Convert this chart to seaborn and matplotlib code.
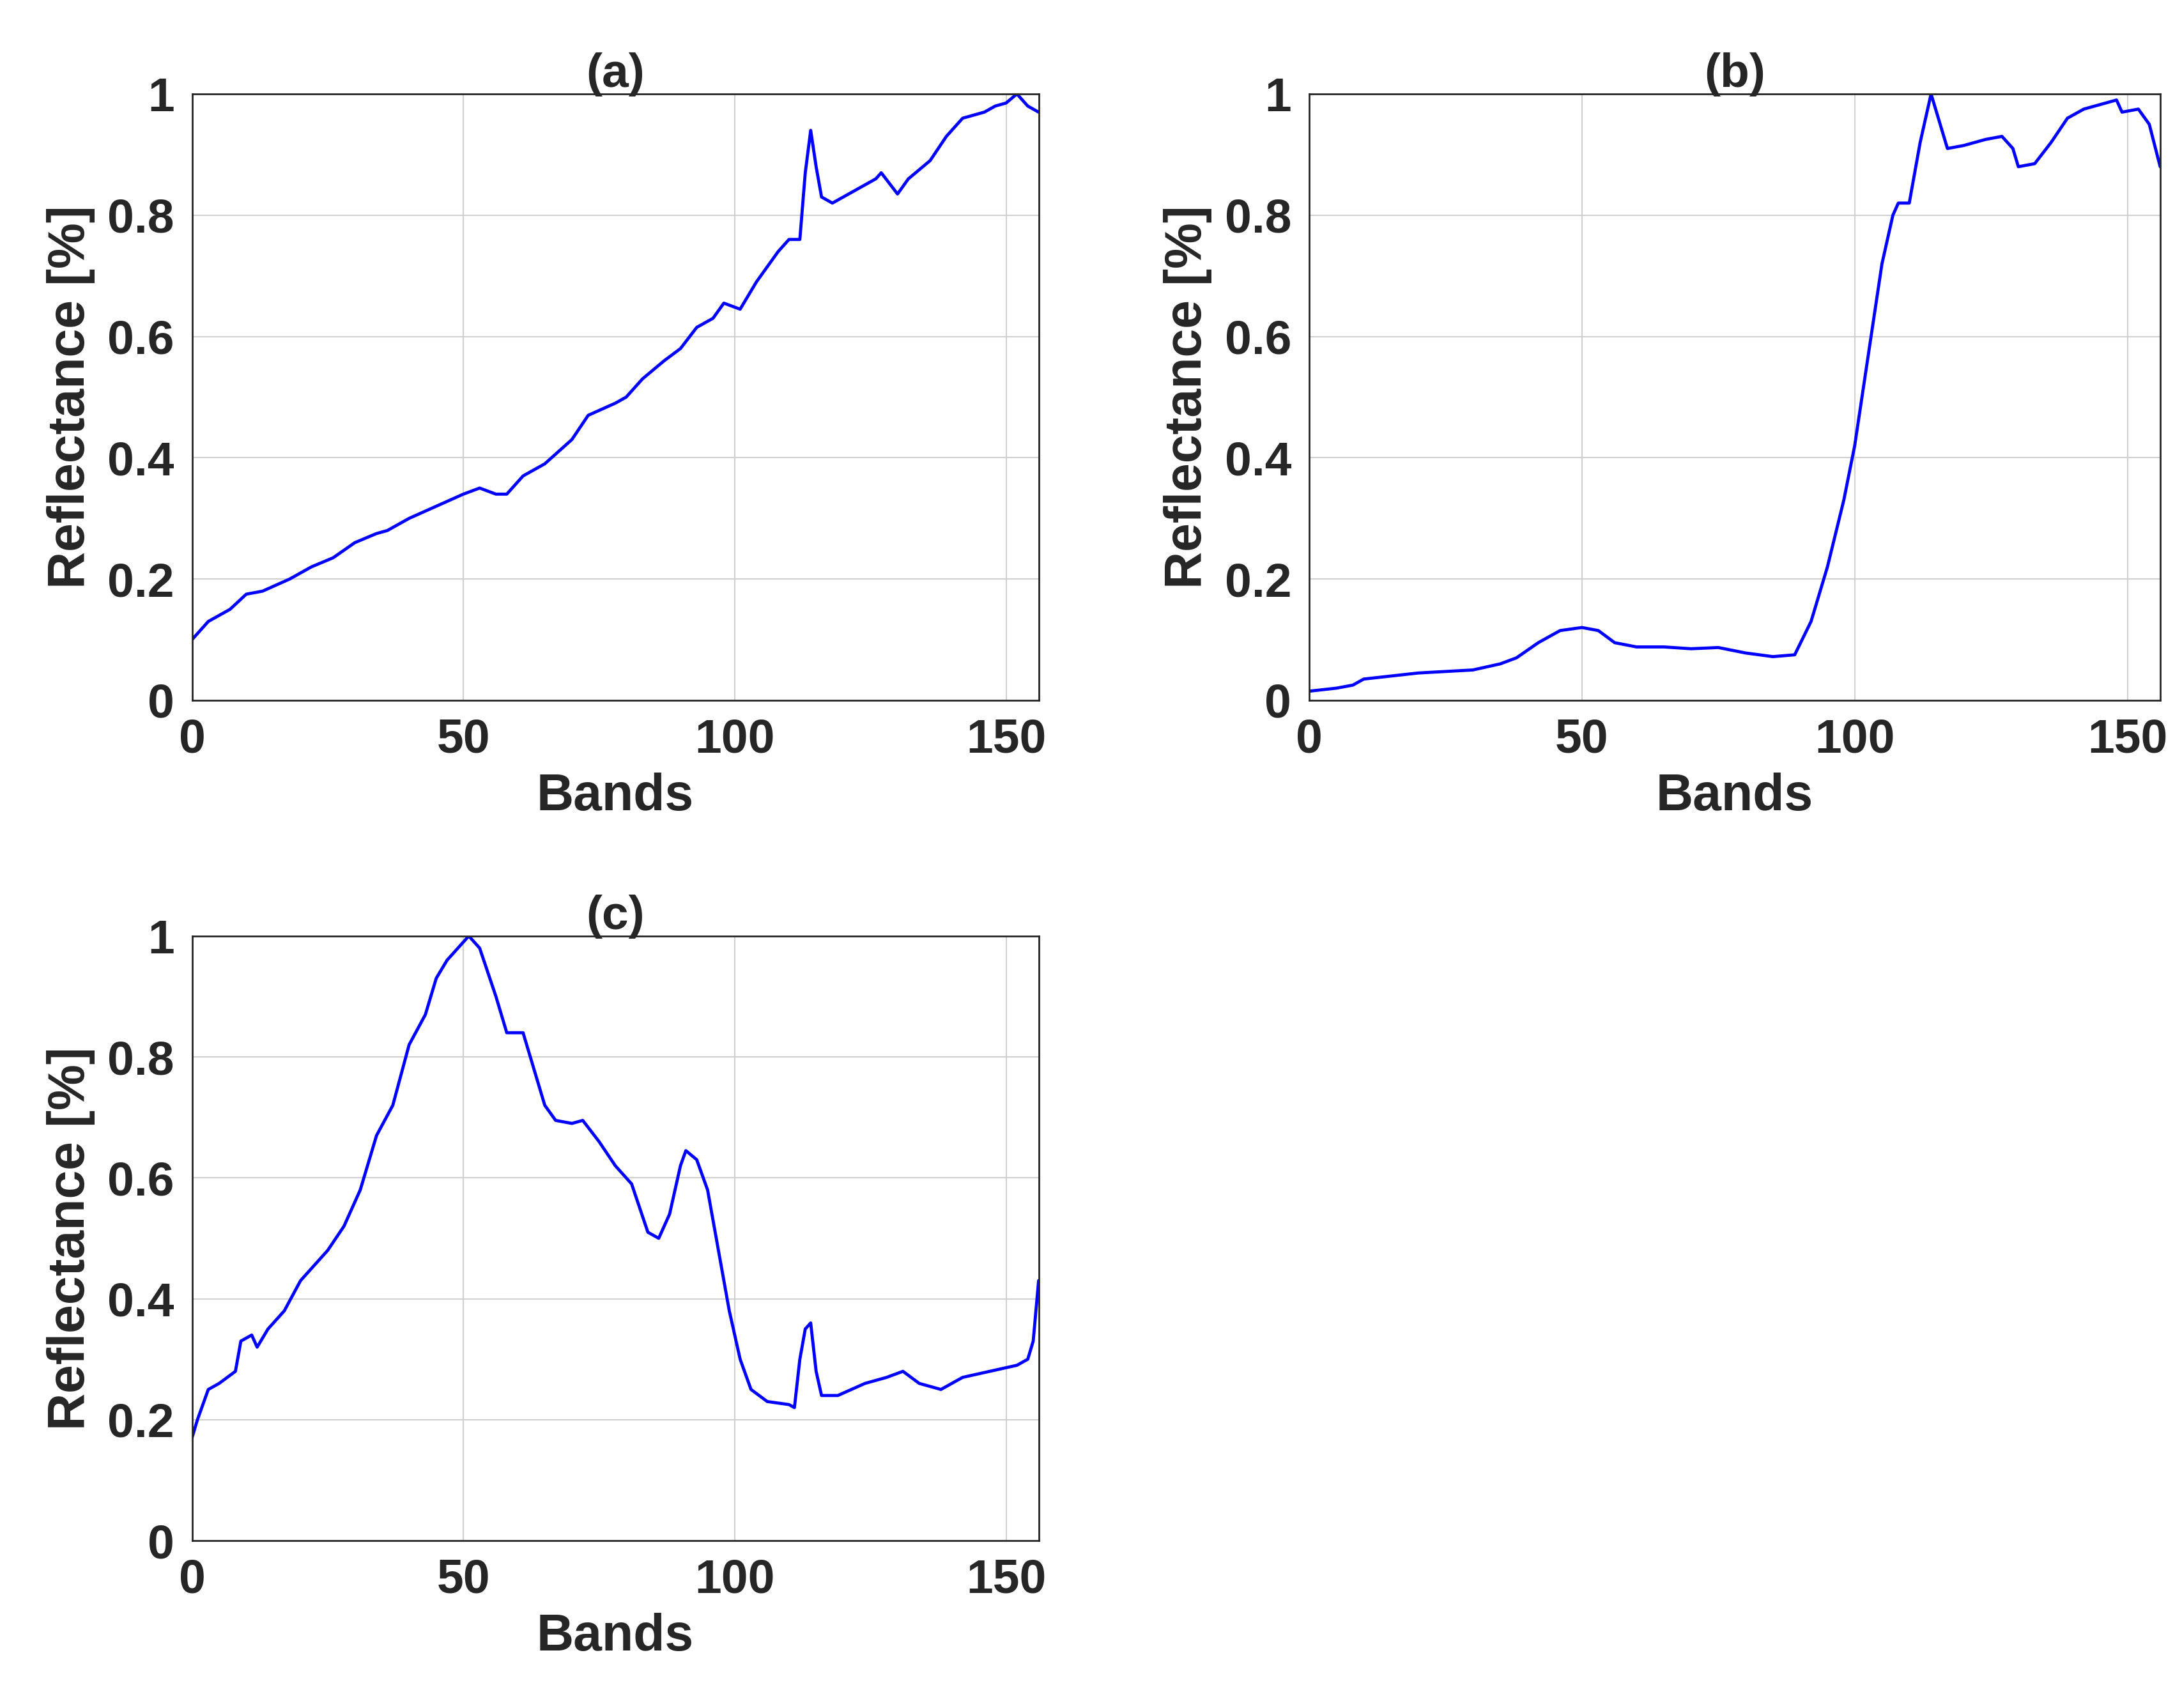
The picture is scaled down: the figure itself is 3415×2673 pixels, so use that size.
import matplotlib
matplotlib.use("Agg")
import matplotlib.pyplot as plt
import seaborn as sns
import pandas as pd

sns.set_theme(style="whitegrid")
plt.rcParams['font.family'] = ['Liberation Sans', 'DejaVu Sans']
plt.rcParams['font.weight'] = 'bold'

bands_a = [0,3,7,10,13,18,22,26,30,34,36,40,45,50,53,56,58,61,65,70,73,78,80,83,87,90,93,96,98,101,104,108,110,112,113,114,115,116,118,122,126,127,130,132,136,139,142,146,148,150,152,154,156]
refl_a = [0.10,0.13,0.15,0.175,0.18,0.20,0.22,0.235,0.26,0.275,0.28,0.30,0.32,0.34,0.35,0.34,0.34,0.37,0.39,0.43,0.47,0.49,0.50,0.53,0.56,0.58,0.615,0.63,0.655,0.645,0.69,0.74,0.76,0.76,0.87,0.94,0.88,0.83,0.82,0.84,0.86,0.87,0.835,0.86,0.89,0.93,0.96,0.97,0.98,0.985,1.0,0.98,0.97]

bands_b = [0,5,8,10,15,20,30,35,38,42,46,50,53,56,60,65,70,75,80,85,89,92,95,98,100,103,105,107,108,110,112,114,115,117,120,124,127,129,130,133,136,139,142,146,148,149,152,154,156]
refl_b = [0.015,0.02,0.025,0.035,0.04,0.045,0.05,0.06,0.07,0.095,0.115,0.12,0.115,0.095,0.088,0.088,0.085,0.087,0.078,0.072,0.075,0.13,0.22,0.33,0.42,0.60,0.72,0.80,0.82,0.82,0.92,1.0,0.97,0.91,0.915,0.925,0.93,0.91,0.88,0.885,0.92,0.96,0.975,0.985,0.99,0.97,0.975,0.95,0.88]

bands_c = [0,1,3,5,8,9,11,12,14,17,20,25,28,31,34,37,40,43,45,47,49,51,53,56,58,61,63,65,67,70,72,75,78,81,84,86,88,90,91,93,95,97,99,101,103,106,110,111,112,113,114,115,116,119,124,128,131,134,138,142,147,152,154,155,156]
refl_c = [0.17,0.20,0.25,0.26,0.28,0.33,0.34,0.32,0.35,0.38,0.43,0.48,0.52,0.58,0.67,0.72,0.82,0.87,0.93,0.96,0.98,1.0,0.98,0.90,0.84,0.84,0.78,0.72,0.695,0.69,0.695,0.66,0.62,0.59,0.51,0.50,0.54,0.62,0.645,0.63,0.58,0.48,0.38,0.30,0.25,0.23,0.225,0.22,0.30,0.35,0.36,0.28,0.24,0.24,0.26,0.27,0.28,0.26,0.25,0.27,0.28,0.29,0.30,0.33,0.43]

titles = ['(a)', '(b)', '(c)']
series = [(bands_a, refl_a), (bands_b, refl_b), (bands_c, refl_c)]
rects = [[0.088, 0.590, 0.388, 0.355], [0.600, 0.590, 0.390, 0.355], [0.088, 0.098, 0.388, 0.354]]

fig = plt.figure(figsize=(34.15, 26.73), dpi=100)
for t, (x, y), r in zip(titles, series, rects):
    ax = fig.add_axes(r)
    df = pd.DataFrame({'Bands': x, 'Reflectance': y})
    sns.lineplot(data=df, x='Bands', y='Reflectance', ax=ax, color='#0000ff', linewidth=3.5)
    ax.set_xlim(0, 156)
    ax.set_ylim(0, 1)
    ax.set_xticks([0, 50, 100, 150])
    ax.set_yticks([0, 0.2, 0.4, 0.6, 0.8, 1])
    ax.set_yticklabels(['0', '0.2', '0.4', '0.6', '0.8', '1'])
    ax.tick_params(labelsize=54, pad=14)
    for lab in ax.get_xticklabels() + ax.get_yticklabels():
        lab.set_fontweight('bold'); lab.set_color('#262626')
    ax.set_xlabel('Bands', fontsize=58, fontweight='bold', color='#262626', labelpad=12)
    ax.set_ylabel('Reflectance [%]', fontsize=58, fontweight='bold', color='#262626', labelpad=14)
    ax.set_title(t, fontsize=54, fontweight='bold', pad=8)
    ax.grid(True, color='#d0d0d0', linewidth=1.5)
    for s in ax.spines.values():
        s.set_color('#262626'); s.set_linewidth(2)

fig.savefig('out.png', dpi=100, facecolor='white')
